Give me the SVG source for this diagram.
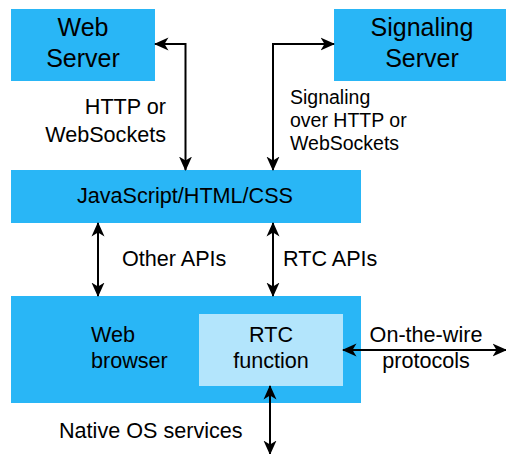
<svg xmlns="http://www.w3.org/2000/svg" width="506" height="454" viewBox="0 0 506 454">
<defs>
<style>
.box{fill:#29b6f6;}
.inner{fill:#b3e5fc;}
text{font-family:"Liberation Sans",Arial,Helvetica,sans-serif;fill:#000;}
.t25{font-size:25px;}
.t21{font-size:21.6px;}
.t19{font-size:19.5px;}
.c{text-anchor:middle;}
.r{text-anchor:end;}
.conn{fill:none;stroke:#000;stroke-width:2;marker-start:url(#ah);marker-end:url(#ah);}
</style>
<marker id="ah" markerUnits="userSpaceOnUse" markerWidth="15" markerHeight="14" refX="13.5" refY="7" orient="auto-start-reverse" viewBox="0 0 15 14">
<path d="M0,0.5 L14.5,7 L0,13.5 L4,7 Z" fill="#000"/>
</marker>
</defs>
<rect width="506" height="454" fill="#fff"/>
<g id="web-server">
<rect class="box" x="11" y="9" width="144" height="72"/>
<text class="t25 c" x="83" y="36">Web</text>
<text class="t25 c" x="83" y="67">Server</text>
</g>
<g id="signaling-server">
<rect class="box" x="334" y="9" width="172" height="72"/>
<text class="t25 c" x="422" y="36">Signaling</text>
<text class="t25 c" x="422" y="67">Server</text>
</g>
<g id="js-html-css">
<rect class="box" x="11" y="170" width="350" height="53"/>
<text class="t21 c" x="185" y="203">JavaScript/HTML/CSS</text>
</g>
<g id="web-browser">
<rect class="box" x="11" y="296" width="350" height="107"/>
<text class="t21" x="91" y="342">Web</text>
<text class="t21" x="91" y="368">browser</text>
</g>
<g id="rtc-function">
<rect class="inner" x="199" y="314" width="144" height="72"/>
<text class="t21 c" x="271" y="342">RTC</text>
<text class="t21 c" x="271" y="368">function</text>
</g>
<g id="connectors">
<path class="conn" d="M155,44 H185.5 V170"/>
<path class="conn" d="M273,170 V44 H334"/>
<path class="conn" d="M98,223 V296"/>
<path class="conn" d="M273,223 V296"/>
<path class="conn" d="M343,350 H506"/>
<path class="conn" d="M270,386 V454"/>
</g>
<g id="labels">
<text class="t21 r" x="166" y="114">HTTP or</text>
<text class="t21 r" x="166" y="142">WebSockets</text>
<text class="t19" x="290" y="104">Signaling</text>
<text class="t19" x="290" y="127">over HTTP or</text>
<text class="t19" x="290" y="150">WebSockets</text>
<text class="t21" x="122" y="266">Other APIs</text>
<text class="t21" x="283" y="266">RTC APIs</text>
<text class="t21 c" x="426" y="342">On-the-wire</text>
<text class="t21 c" x="426" y="368">protocols</text>
<text class="t21" x="59" y="438">Native OS services</text>
</g>
</svg>
